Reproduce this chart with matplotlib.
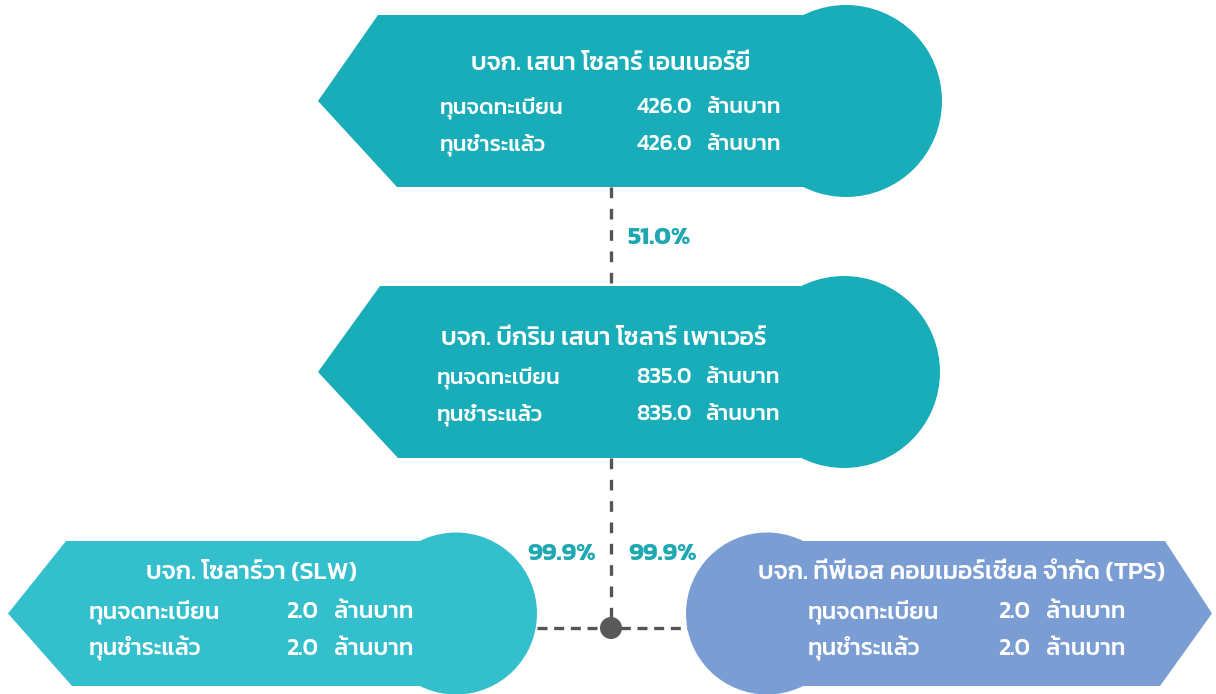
import matplotlib
matplotlib.use("Agg")
import matplotlib.pyplot as plt
from matplotlib.patches import Polygon, Circle

plt.rcParams['font.family'] = ['Kanit', 'DejaVu Sans']

# data
names = ["บจก. เสนา โซลาร์ เอนเนอร์ยี่",
         "บจก. บีกริม เสนา โซลาร์ เพาเวอร์",
         "บจก. โซลาร์วา (SLW)",
         "บจก. ทีพีเอส คอมเมอร์เชี่ยล จำกัด (TPS)"]
registered = [426.0, 835.0, 2.0, 2.0]
paid = [426.0, 835.0, 2.0, 2.0]
row_labels = ["ทุนจดทะเบียน", "ทุนชำระแล้ว"]
unit = "ล้านบาท"
shares = ["51.0%", "99.9%", "99.9%"]

teal = "#19adba"
teal_light = "#34bfcc"
blue = "#7a9ed3"
pct_col = "#1fa8b2"
line_col = "#555555"

fig = plt.figure(figsize=(12.16, 6.94), dpi=100)
ax = fig.add_axes([0, 0, 1, 1])
ax.set_xlim(0, 1216)
ax.set_ylim(694, 0)
ax.axis('off')


def arrow_box(x_tip, x_top, x_bot, x_c, y0, y1, r, color):
    # pointed end at x_tip, round end (circle) centred at x_c
    ym = (y0 + y1) / 2
    ax.add_patch(Polygon([(x_tip, ym), (x_top, y0), (x_c, y0), (x_c, y1), (x_bot, y1)],
                         closed=True, fc=color, ec='none', zorder=2))
    ax.add_patch(Circle((x_c, ym), r, fc=color, ec='none', zorder=2))


# connectors
vdash = dict(color=line_col, lw=2.4, ls=(0, (3.2, 3.2)), zorder=1)
hdash = dict(color=line_col, lw=2.4, ls=(0, (3.0, 2.0)), zorder=1)
ax.plot([611, 611], [187, 287], **vdash)
ax.plot([611, 611], [458, 628], **vdash)
ax.plot([537, 688], [628, 628], **hdash)
ax.add_patch(Circle((611, 628), 11, fc="#595959", ec='none', zorder=3))

# boxes
arrow_box(318, 378, 397, 846, 15, 187, 96, teal)
arrow_box(318, 380, 398, 844, 286, 458, 96, teal)
arrow_box(8, 66, 72, 456, 541, 686, 81, teal_light)
arrow_box(1212, 1165, 1160, 767, 541, 686, 81, blue)

# text layout per box: title centre x, title baseline, label x, number right x,
# unit x, row baselines, row font size
layout = [
    (611, 70, 440, 692, 706, (113, 150), 16),
    (604, 345, 437, 692, 705, (383, 420), 16),
    (252, 579, 89, 318, 334, (618, 655), 17),
    (962, 579, 808, 1030, 1046, (618, 655), 17),
]

for i, (tx, ty, lx, nx, ux, rows, fs) in enumerate(layout):
    ax.text(tx, ty, names[i], ha='center', va='baseline', color='white',
            fontsize=18, fontweight='medium', zorder=4)
    for lab, val, ry in zip(row_labels, (registered[i], paid[i]), rows):
        ax.text(lx, ry, lab, ha='left', va='baseline', color='white', fontsize=fs,
                fontweight='medium', zorder=4)
        ax.text(nx, ry, f"{val:.1f}", ha='right', va='baseline', color='white',
                fontsize=fs, fontweight='medium', zorder=4)
        ax.text(ux, ry, unit, ha='left', va='baseline', color='white', fontsize=fs,
                fontweight='medium', zorder=4)

# percentages
ax.text(627, 238, shares[0], ha='left', va='center', color=pct_col, fontsize=18, fontweight='bold')
ax.text(596, 554, shares[1], ha='right', va='center', color=pct_col, fontsize=18, fontweight='bold')
ax.text(628, 554, shares[2], ha='left', va='center', color=pct_col, fontsize=18, fontweight='bold')

fig.savefig("out.png", dpi=100)
